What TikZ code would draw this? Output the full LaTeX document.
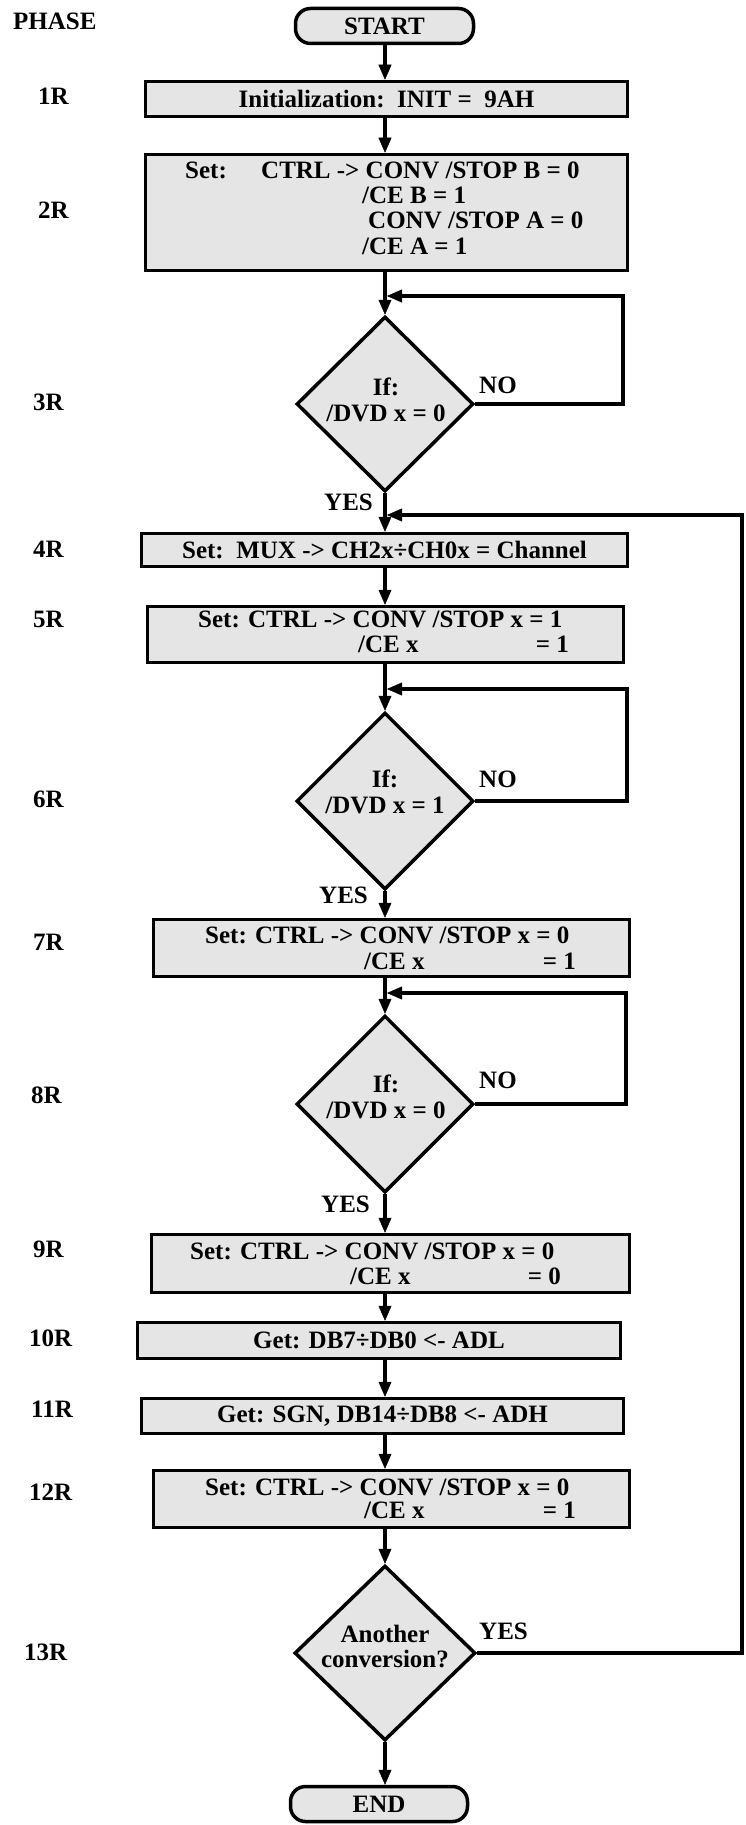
\documentclass[tikz,border=0pt]{standalone}
\usepackage{fontspec}
\setmainfont{Liberation Serif}
\usetikzlibrary{shapes.geometric,arrows.meta}
\definecolor{boxfill}{gray}{0.9}
\begin{document}
\begin{tikzpicture}[x=1pt,y=-1pt,
  txt/.style={font=\fontsize{25}{26}\selectfont\bfseries, inner sep=0pt},
  procbox/.style={draw, line width=3.5pt, fill=boxfill, inner sep=0pt, txt},
  termbox/.style={procbox, rounded corners=15pt},
  decbox/.style={diamond, draw, line width=3.5pt, fill=boxfill, inner sep=0pt, aspect=1},
  lbl/.style={txt, anchor=base west},
  lble/.style={txt, anchor=base east},
  lblc/.style={txt, anchor=base},
  flow/.style={line width=3.5pt, -{Triangle[length=15pt,width=13pt,line width=0.5pt]}},
  ]
\useasboundingbox (0,0) rectangle (746,1825);
\coordinate (axis) at (385,0);

% phase labels
\node[lbl] (ph) at (13,30) {PHASE};
\node[lbl] (p1) at (38,105) {1R};
\node[lbl] (p2) at (38,218) {2R};
\node[lbl] (p3) at (33,410) {3R};
\node[lbl] (p4) at (33,557) {4R};
\node[lbl] (p5) at (33,627) {5R};
\node[lbl] (p6) at (33,807) {6R};
\node[lbl] (p7) at (33,950) {7R};
\node[lbl] (p8) at (31,1103) {8R};
\node[lbl] (p9) at (33,1257) {9R};
\node[lbl] (p10) at (29,1346) {10R};
\node[lbl] (p11) at (31,1417) {11R};
\node[lbl] (p12) at (29,1500) {12R};
\node[lbl] (p13) at (24,1660) {13R};

% terminals
\node[termbox, minimum width=178pt, minimum height=35pt] (start) at (384.5,26) {START};
\node[termbox, minimum width=177pt, minimum height=35pt] (end) at (379,1804) {END};

% process boxes
\node[procbox, minimum width=482pt, minimum height=35pt] (b1) at (386.5,99) {Initialization:\ \ INIT =\ \ 9AH};
\node[procbox, minimum width=482pt, minimum height=116pt] (b2) at (386.5,212.5) {};
\node[procbox, minimum width=486pt, minimum height=33pt] (b4) at (384.5,550) {Set:\ \ MUX -> CH2x÷CH0x = Channel};
\node[procbox, minimum width=476pt, minimum height=56pt] (b5) at (385.5,634.5) {};
\node[procbox, minimum width=476pt, minimum height=57pt] (b7) at (391.5,948) {};
\node[procbox, minimum width=478pt, minimum height=58pt] (b9) at (390.5,1263.5) {};
\node[procbox, minimum width=483pt, minimum height=36pt] (b10) at (379,1340.5) {Get: DB7÷DB0 <- ADL};
\node[procbox, minimum width=482pt, minimum height=35pt] (b11) at (382.5,1416) {Get: SGN, DB14÷DB8 <- ADH};
\node[procbox, minimum width=476pt, minimum height=57pt] (b12) at (391.5,1499) {};

% box texts
\node[lbl] (t2a) at (185,178) {Set:};
\node[lbl] (t2b) at (261,178) {CTRL -> CONV /STOP B = 0};
\node[lbl] (t2c) at (362,203) {/CE B = 1};
\node[lbl] (t2d) at (368,228) {CONV /STOP A = 0};
\node[lbl] (t2e) at (362,254) {/CE A = 1};

\node[lbl] (t5a) at (198,627) {Set: CTRL -> CONV /STOP x = 1};
\node[lbl] (t5b) at (358,652) {/CE x};
\node[lble] (t5c) at (569,652) {= 1};

\node[lbl] (t7a) at (205,943) {Set: CTRL -> CONV /STOP x = 0};
\node[lbl] (t7b) at (364,969) {/CE x};
\node[lble] (t7c) at (576,969) {= 1};

\node[lbl] (t9a) at (190,1259) {Set: CTRL -> CONV /STOP x = 0};
\node[lbl] (t9b) at (350,1284) {/CE x};
\node[lble] (t9c) at (561,1284) {= 0};

\node[lbl] (t12a) at (205,1495) {Set: CTRL -> CONV /STOP x = 0};
\node[lbl] (t12b) at (364,1518) {/CE x};
\node[lble] (t12c) at (576,1518) {= 1};

% decisions
\node[decbox, minimum width=177pt, minimum height=175pt] (d3) at (385,404) {};
\node[decbox, minimum width=177pt, minimum height=177pt] (d6) at (385,801) {};
\node[decbox, minimum width=177pt, minimum height=177pt] (d8) at (385,1104) {};
\node[decbox, minimum width=181pt, minimum height=175pt] (d13) at (385,1653) {};

\node[lblc] (t3a) at (386,395) {If:};
\node[lblc] (t3b) at (386,421) {/DVD x = 0};
\node[lblc] (t6a) at (385,787) {If:};
\node[lblc] (t6b) at (385,813) {/DVD x = 1};
\node[lblc] (t8a) at (386,1092) {If:};
\node[lblc] (t8b) at (386,1118) {/DVD x = 0};
\node[lblc] (t13a) at (385,1642) {Another};
\node[lblc] (t13b) at (385,1667) {conversion?};

% branch labels
\node[lbl] (no3) at (479,393) {NO};
\node[lbl] (yes3) at (324,510) {YES};
\node[lbl] (no6) at (479,787) {NO};
\node[lbl] (yes6) at (319,903) {YES};
\node[lbl] (no8) at (479,1088) {NO};
\node[lbl] (yes8) at (321,1212) {YES};
\node[lbl] (yes13) at (479,1639) {YES};

% loop coordinates
\coordinate (n3) at (623,296);  \coordinate (j3) at (387,296);
\coordinate (n6) at (627,689);  \coordinate (j6) at (387,689);
\coordinate (n8) at (626,993);  \coordinate (j8) at (387,993);
\coordinate (nb) at (742,515);  \coordinate (jb) at (387,515);

% main flow
\draw[flow] (start.south -| axis) -- (b1.north -| axis);
\draw[flow] (b1.south -| axis) -- (b2.north -| axis);
\draw[flow] (b2.south -| axis) -- (d3.north);
\draw[flow] (d3.south) -- (b4.north -| axis);
\draw[flow] (b4.south -| axis) -- (b5.north -| axis);
\draw[flow] (b5.south -| axis) -- (d6.north);
\draw[flow] (d6.south) -- (b7.north -| axis);
\draw[flow] (b7.south -| axis) -- (d8.north);
\draw[flow] (d8.south) -- (b9.north -| axis);
\draw[flow] (b9.south -| axis) -- (b10.north -| axis);
\draw[flow] (b10.south -| axis) -- (b11.north -| axis);
\draw[flow] (b11.south -| axis) -- (b12.north -| axis);
\draw[flow] (b12.south -| axis) -- (d13.north);
\draw[flow] (d13.south) -- (d13.south |- end.north);

% loops
\draw[flow] (d3.east) -| (n3) -- (j3);
\draw[flow] (d6.east) -| (n6) -- (j6);
\draw[flow] (d8.east) -| (n8) -- (j8);
\draw[flow] (d13.east) -| (nb) -- (jb);
\end{tikzpicture}
\end{document}
